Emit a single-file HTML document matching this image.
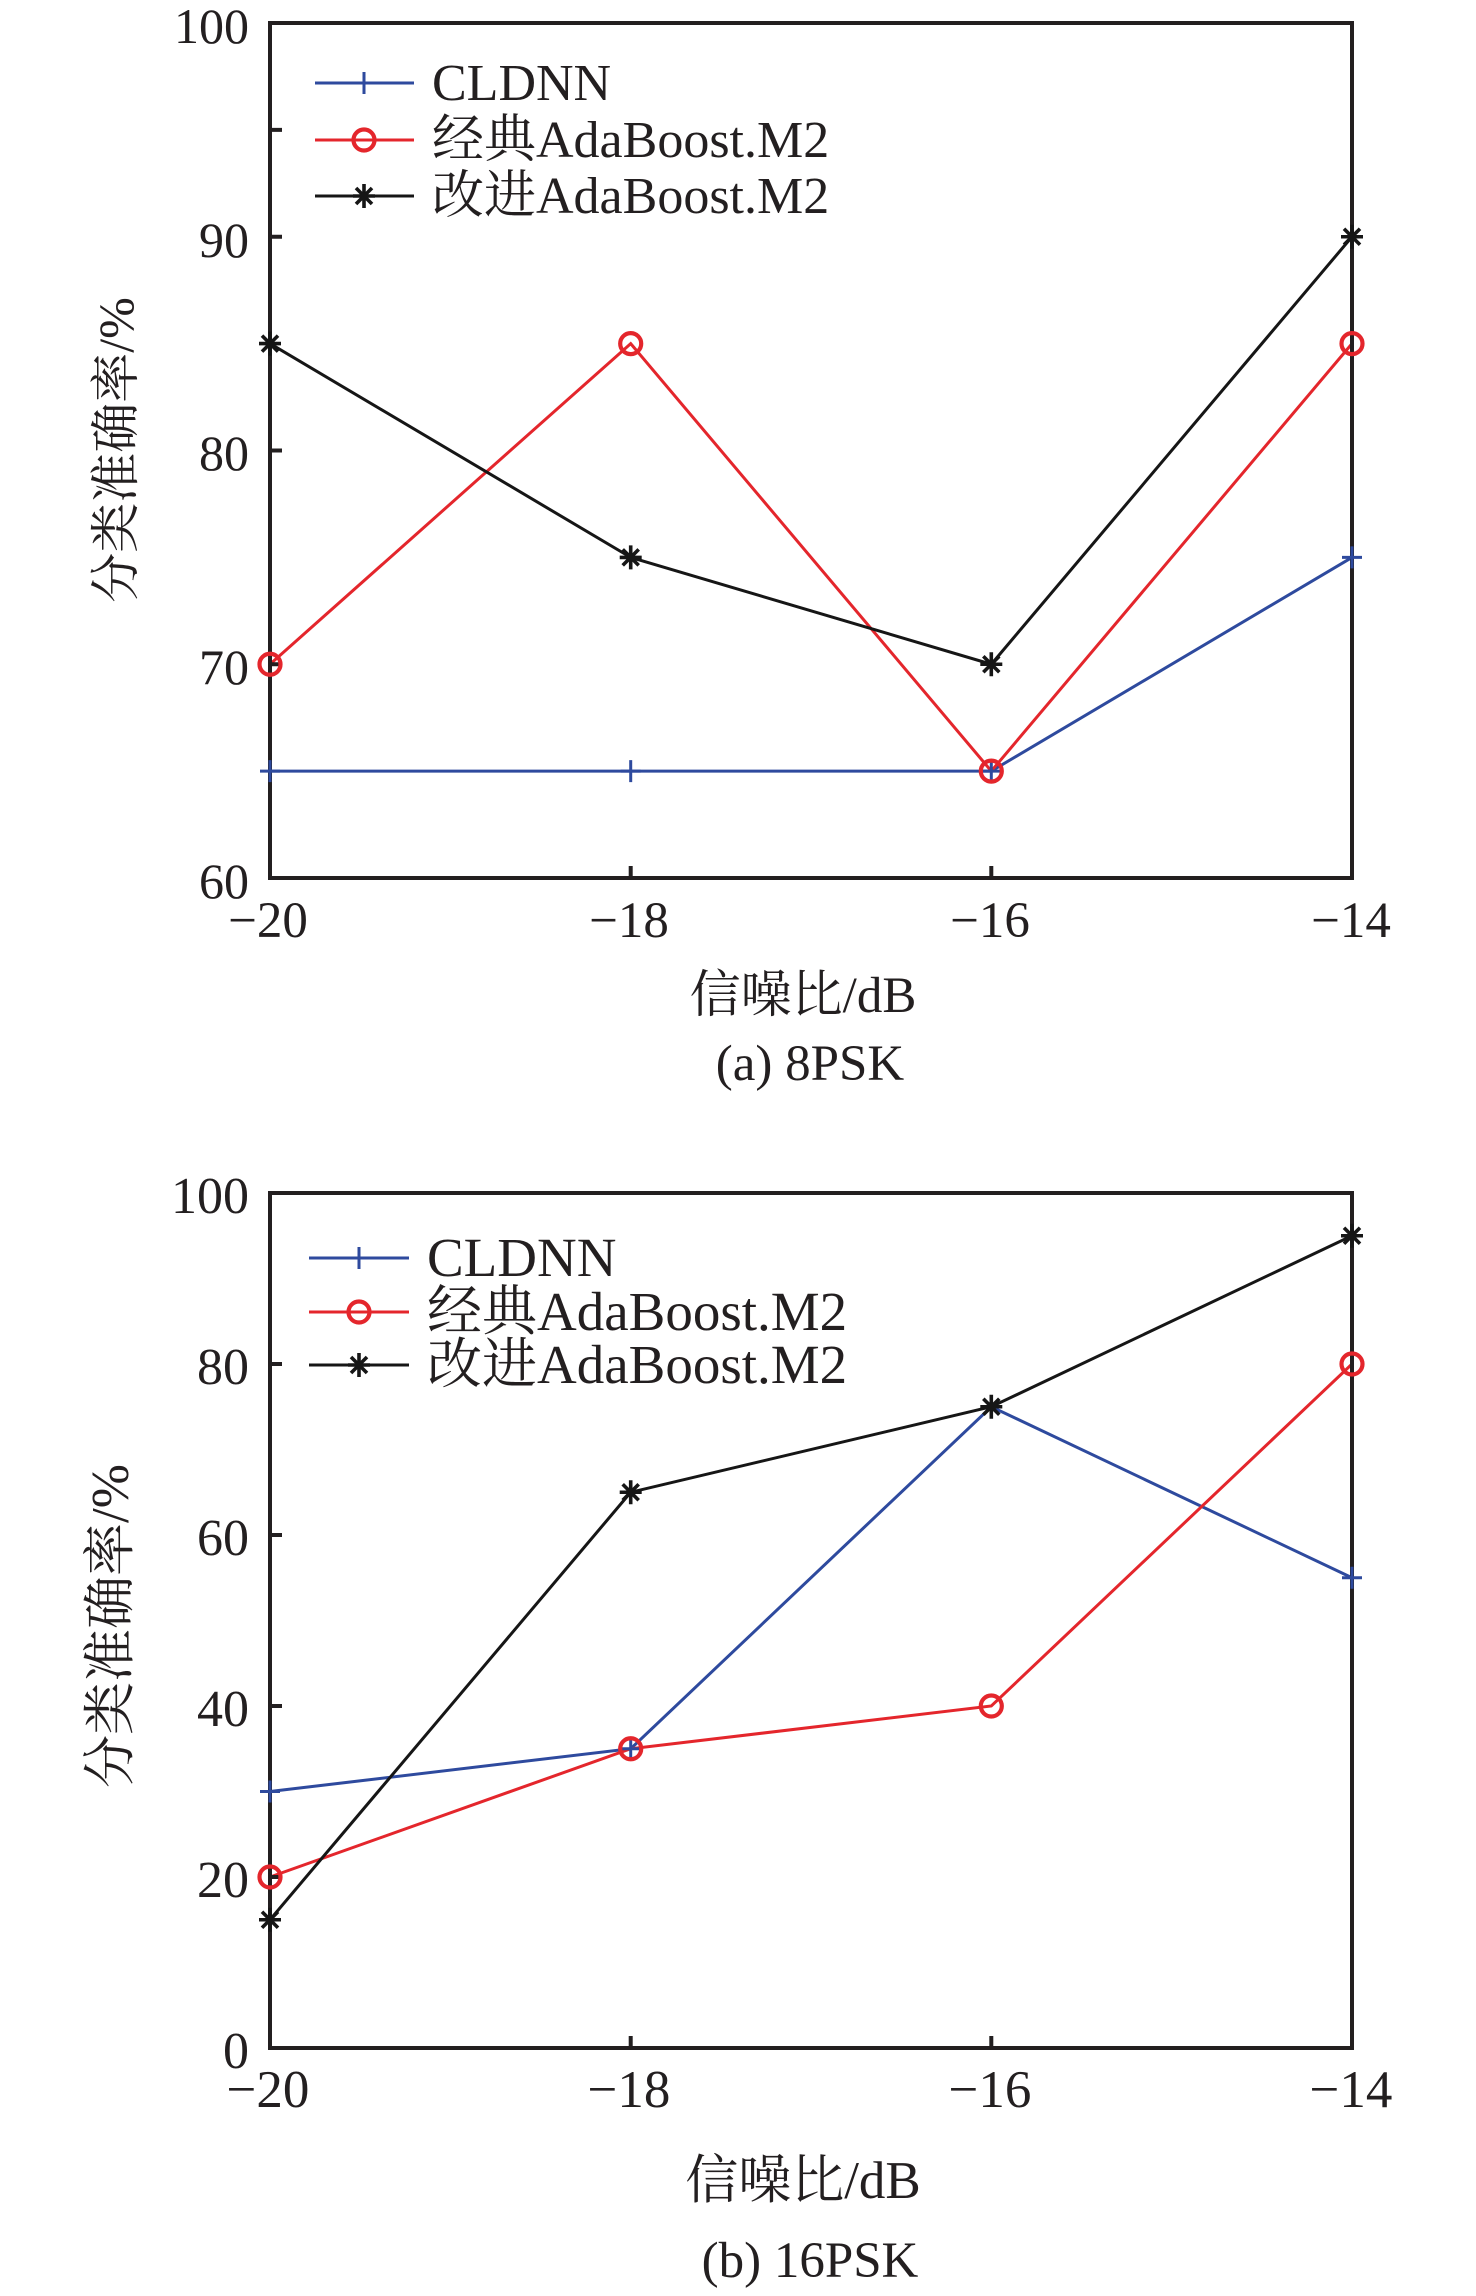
<!DOCTYPE html>
<html>
<head>
<meta charset="utf-8">
<style>
  html, body { margin:0; padding:0; background:#fff; }
  svg { display:block; }
  text { font-family: "Liberation Serif", "Noto Serif CJK SC", serif; fill:#231f20; }
</style>
</head>
<body>
<svg width="1476" height="2296" viewBox="0 0 1476 2296" xmlns="http://www.w3.org/2000/svg">
  <defs>
    <g id="plus"><path d="M-10,0 H10 M0,-11 V11" stroke="#2e4a9e" stroke-width="3" fill="none"/></g>
    <g id="circ"><circle r="10.5" stroke="#e4262c" stroke-width="4.2" fill="none"/></g>
    <g id="star"><path d="M-11,0 H11 M0,-12 V12 M-8,-8 L8,8 M-8,8 L8,-8" stroke="#161616" stroke-width="3.6" fill="none"/></g>
  </defs>

  <!-- ================= Plot (a) ================= -->
  <polyline points="270,771.1 630.7,771.1 991.3,771.1 1352,557.4" fill="none" stroke="#2e4a9e" stroke-width="3"/>
  <polyline points="270,664.25 630.7,343.6 991.3,771.1 1352,343.6" fill="none" stroke="#e4262c" stroke-width="3"/>
  <polyline points="270,343.6 630.7,557.4 991.3,664.25 1352,236.75" fill="none" stroke="#161616" stroke-width="3"/>

  <rect x="270" y="23" width="1082" height="855" fill="none" stroke="#231f20" stroke-width="4"/>
  <path d="M270,129.9 H282 M270,236.75 H282 M270,450.5 H282 M270,664.25 H282
           M630.7,878 V866 M991.3,878 V866" stroke="#231f20" stroke-width="4" fill="none"/>

  <use href="#plus" x="270" y="771.1"/><use href="#plus" x="630.7" y="771.1"/><use href="#plus" x="991.3" y="771.1"/><use href="#plus" x="1352" y="557.4"/>
  <use href="#circ" x="270" y="664.25"/><use href="#circ" x="630.7" y="343.6"/><use href="#circ" x="991.3" y="771.1"/><use href="#circ" x="1352" y="343.6"/>
  <use href="#star" x="270" y="343.6"/><use href="#star" x="630.7" y="557.4"/><use href="#star" x="991.3" y="664.25"/><use href="#star" x="1352" y="236.75"/>

  <g font-size="50" text-anchor="end">
    <text x="249" y="43">100</text>
    <text x="249" y="257">90</text>
    <text x="249" y="470">80</text>
    <text x="249" y="684">70</text>
    <text x="249" y="898">60</text>
  </g>
  <g font-size="51" text-anchor="middle">
    <text x="268" y="937">−20</text>
    <text x="629" y="937">−18</text>
    <text x="990" y="937">−16</text>
    <text x="1351" y="937">−14</text>
  </g>

  <line x1="315" y1="83" x2="414" y2="83" stroke="#2e4a9e" stroke-width="3"/>
  <use href="#plus" x="364" y="83"/>
  <line x1="315" y1="140" x2="414" y2="140" stroke="#e4262c" stroke-width="3"/>
  <use href="#circ" x="364" y="140"/>
  <line x1="315" y1="196" x2="414" y2="196" stroke="#161616" stroke-width="3"/>
  <use href="#star" x="364" y="196"/>
  <g font-size="52">
    <text x="432" y="100">CLDNN</text>
    <text x="432" y="157">经典AdaBoost.M2</text>
    <text x="432" y="213">改进AdaBoost.M2</text>
  </g>

  <text font-size="50" text-anchor="middle" transform="translate(133,450) rotate(-90)">分类准确率/%</text>
  <text x="803" y="1012" font-size="51" text-anchor="middle">信噪比/dB</text>
  <text x="810" y="1080" font-size="51" text-anchor="middle">(a) 8PSK</text>

  <!-- ================= Plot (b) ================= -->
  <polyline points="270,1791.5 630.7,1748.75 991.3,1406.75 1352,1577.75" fill="none" stroke="#2e4a9e" stroke-width="3"/>
  <polyline points="270,1877 630.7,1748.75 991.3,1706 1352,1364" fill="none" stroke="#e4262c" stroke-width="3"/>
  <polyline points="270,1919.75 630.7,1492.25 991.3,1406.75 1352,1235.75" fill="none" stroke="#161616" stroke-width="3"/>

  <rect x="270" y="1193" width="1082" height="855" fill="none" stroke="#231f20" stroke-width="4"/>
  <path d="M270,1364 H282 M270,1535 H282 M270,1706 H282 M270,1877 H282
           M630.7,2048 V2036 M991.3,2048 V2036" stroke="#231f20" stroke-width="4" fill="none"/>

  <use href="#plus" x="270" y="1791.5"/><use href="#plus" x="630.7" y="1748.75"/><use href="#plus" x="991.3" y="1406.75"/><use href="#plus" x="1352" y="1577.75"/>
  <use href="#circ" x="270" y="1877"/><use href="#circ" x="630.7" y="1748.75"/><use href="#circ" x="991.3" y="1706"/><use href="#circ" x="1352" y="1364"/>
  <use href="#star" x="270" y="1919.75"/><use href="#star" x="630.7" y="1492.25"/><use href="#star" x="991.3" y="1406.75"/><use href="#star" x="1352" y="1235.75"/>

  <g font-size="52" text-anchor="end">
    <text x="249" y="1213">100</text>
    <text x="249" y="1384">80</text>
    <text x="249" y="1555">60</text>
    <text x="249" y="1726">40</text>
    <text x="249" y="1897">20</text>
    <text x="249" y="2068">0</text>
  </g>
  <g font-size="53" text-anchor="middle">
    <text x="268" y="2107">−20</text>
    <text x="629" y="2107">−18</text>
    <text x="990" y="2107">−16</text>
    <text x="1351" y="2107">−14</text>
  </g>

  <line x1="309" y1="1258" x2="409" y2="1258" stroke="#2e4a9e" stroke-width="3"/>
  <use href="#plus" x="359" y="1258"/>
  <line x1="309" y1="1312" x2="409" y2="1312" stroke="#e4262c" stroke-width="3"/>
  <use href="#circ" x="359" y="1312"/>
  <line x1="309" y1="1365" x2="409" y2="1365" stroke="#161616" stroke-width="3"/>
  <use href="#star" x="359" y="1365"/>
  <g font-size="55">
    <text x="427" y="1276">CLDNN</text>
    <text x="427" y="1330">经典AdaBoost.M2</text>
    <text x="427" y="1383">改进AdaBoost.M2</text>
  </g>

  <text font-size="53" text-anchor="middle" transform="translate(128,1626) rotate(-90)">分类准确率/%</text>
  <text x="803" y="2198" font-size="53" text-anchor="middle">信噪比/dB</text>
  <text x="810" y="2277" font-size="51" text-anchor="middle">(b) 16PSK</text>
</svg>
</body>
</html>
